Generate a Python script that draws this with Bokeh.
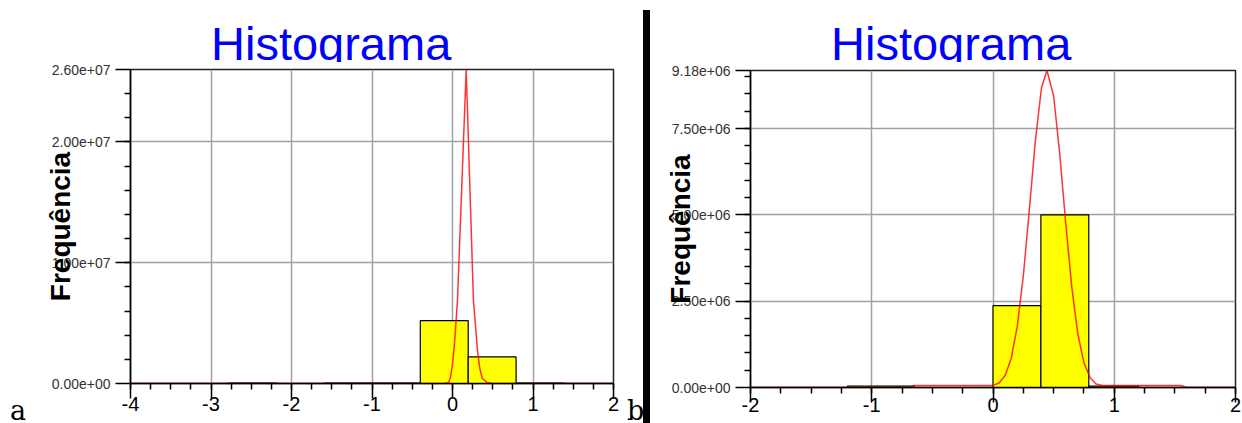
import numpy as np
from bokeh.plotting import figure
from bokeh.layouts import row, column
from bokeh.models import Range1d, FixedTicker, Div
from bokeh.embed import file_html
from bokeh.resources import INLINE

TITLE = "Histograma"
YLABEL = "Frequência"
PANEL_TAGS = ["a", "b"]

# ---------------- panel a ----------------
a_bar_left = [-2.78, -1.59, -0.995, -0.40, 0.195, 0.79]
a_bar_right = [-2.185, -0.995, -0.40, 0.195, 0.79, 1.385]
a_bar_count = [4e4, 4e4, 4e4, 5.2e6, 2.2e6, 4e4]
a_curve_x = [-4.0, -0.10, -0.05, -0.025, 0.0, 0.025, 0.062, 0.17, 0.26, 0.31, 0.34, 0.37, 0.43, 0.50, 2.0]
a_curve_y = [0, 0, 0.08e6, 0.5e6, 1.6e6, 3.3e6, 6.9e6, 26.0e6, 6.9e6, 2.75e6, 1.2e6, 0.42e6, 0.08e6, 0, 0]
a_x_ticks = [-4, -3, -2, -1, 0, 1, 2]
a_x_labels = ["-4", "-3", "-2", "-1", "0", "1", "2"]
a_y_ticks = [0, 1e7, 2e7, 2.6e7]
a_y_labels = ["0.00e+00", "1.00e+07", "2.00e+07", "2.60e+07"]

# ---------------- panel b ----------------
b_bar_left = [-1.20, 0.0, 0.395, 0.79]
b_bar_right = [-0.65, 0.395, 0.79, 1.20]
b_bar_count = [4e4, 2.37e6, 5.0e6, 4e4]
b_curve_x = [-2.0, -0.70, -0.65, 0.0, 0.05, 0.10, 0.15, 0.20, 0.25, 0.30, 0.35, 0.40, 0.445,
             0.50, 0.55, 0.60, 0.65, 0.70, 0.75, 0.80, 0.85, 0.90, 1.55, 1.60, 2.0]
b_curve_y = [0, 0, 0.06e6, 0.06e6, 0.13e6, 0.35e6, 0.84e6, 1.77e6, 3.23e6, 5.16e6, 7.17e6, 8.68e6, 9.18e6,
             8.45e6, 6.78e6, 4.75e6, 2.90e6, 1.54e6, 0.72e6, 0.29e6, 0.10e6, 0.06e6, 0.06e6, 0, 0]
b_x_ticks = [-2, -1, 0, 1, 2]
b_x_labels = ["-2", "-1", "0", "1", "2"]
b_y_ticks = [0, 2.5e6, 5e6, 7.5e6, 9.18e6]
b_y_labels = ["0.00e+00", "2.50e+06", "5.00e+06", "7.50e+06", "9.18e+06"]

TITLE_H = 62


def panel(width, mb_left, mb_right, mb_top, mb_bottom, x_ticks, x_labels,
          y_ticks, y_labels, y_minor, bl, br, bc, cx, cy, x_standoff):
    x0, x1 = x_ticks[0], x_ticks[-1]
    p = figure(width=width, height=423 - TITLE_H, output_backend="svg", toolbar_location=None,
               x_range=Range1d(x0, x1), y_range=Range1d(0, y_ticks[-1]),
               min_border_left=mb_left, min_border_right=mb_right,
               min_border_top=mb_top, min_border_bottom=mb_bottom)
    p.background_fill_color = "white"
    p.border_fill_color = "white"
    p.outline_line_color = "#222222"
    p.outline_line_width = 1.5

    p.quad(left=bl, right=br, top=bc, bottom=0, fill_color="#ffff00",
           line_color="black", line_width=1.2)
    p.line(cx, cy, line_color="#ff0000", line_width=1.5, line_alpha=0.8)

    p.xaxis.ticker = FixedTicker(ticks=x_ticks,
                                 minor_ticks=list(np.arange(x0, x1 + 0.001, 0.25)))
    p.xaxis.major_label_overrides = {t: l for t, l in zip(x_ticks, x_labels)}
    p.yaxis.ticker = FixedTicker(ticks=y_ticks, minor_ticks=y_minor)
    p.yaxis.major_label_overrides = {t: l for t, l in zip(y_ticks, y_labels)}

    for ax in (p.xaxis[0], p.yaxis[0]):
        ax.axis_line_color = "black"
        ax.axis_line_width = 1.5
        ax.major_tick_line_color = "black"
        ax.major_tick_line_width = 1.5
        ax.minor_tick_line_color = "black"
        ax.minor_tick_line_width = 1.5
        ax.major_tick_in = 0
        ax.major_tick_out = 15
        ax.minor_tick_in = 0
        ax.minor_tick_out = 6
        ax.major_label_text_font = "Liberation Sans"

    p.xaxis.major_label_text_font_size = "20px"
    p.xaxis.major_label_text_color = "black"
    p.xaxis.major_label_standoff = x_standoff
    p.yaxis.major_label_text_font_size = "14px"
    p.yaxis.major_label_text_color = "#333333"
    p.yaxis.major_label_standoff = 5

    p.yaxis.axis_label = YLABEL
    p.yaxis.axis_label_text_font = "Liberation Sans"
    p.yaxis.axis_label_text_font_size = "28px"
    p.yaxis.axis_label_text_font_style = "bold"
    p.yaxis.axis_label_text_color = "black"
    p.yaxis.axis_label_standoff = -27

    p.grid.grid_line_color = "#a0a0a0"
    p.grid.grid_line_width = 1.5
    return p


def title_div(width, left):
    # the title's lower edge is hidden, as in the reference (descender of "g" cut off)
    html = ('<span style="font-family:\'Liberation Sans\';font-size:47px;'
            'line-height:47px;color:#0000ff;white-space:nowrap">%s</span>' % TITLE)
    return Div(text=html, width=width - left, height=TITLE_H - 20, margin=(20, 0, 0, left),
               styles={"overflow": "hidden", "font-family": "Liberation Sans",
                       "font-size": "47px", "line-height": "47px", "color": "#0000ff"})


def tag(text, width, left):
    html = ('<span style="font-family:\'DejaVu Serif\';font-size:27px;'
            'line-height:26px;color:black">%s</span>' % text)
    return Div(text=html, width=width, height=25, margin=(398, 0, 0, left),
               styles={"font-family": "DejaVu Serif", "font-size": "27px",
                       "line-height": "26px", "color": "black"})


p1 = panel(585, 90, 12, 7, 40, a_x_ticks, a_x_labels, a_y_ticks, a_y_labels,
           list(np.arange(2e6, 2.6e7, 2e6)),
           a_bar_left, a_bar_right, a_bar_count, a_curve_x, a_curve_y, -2)
p2 = panel(592, 100, 7, 8, 36, b_x_ticks, b_x_labels, b_y_ticks, b_y_labels,
           list(np.arange(5e5, 9.18e6, 5e5)),
           b_bar_left, b_bar_right, b_bar_count, b_curve_x, b_curve_y, -5)

t1 = title_div(585, 171)
t2 = title_div(592, 181)

tag_a = tag(PANEL_TAGS[0], 30, 10)
tag_b = tag(PANEL_TAGS[1], 16, 2)

bar = Div(text="", width=7, height=413, margin=(10, 0, 0, 0),
          styles={"background-color": "black"})

layout = row(tag_a, column(t1, p1, spacing=0), tag_b, bar, column(t2, p2, spacing=0), spacing=0)
open("out.html", "w").write(file_html(layout, INLINE))
